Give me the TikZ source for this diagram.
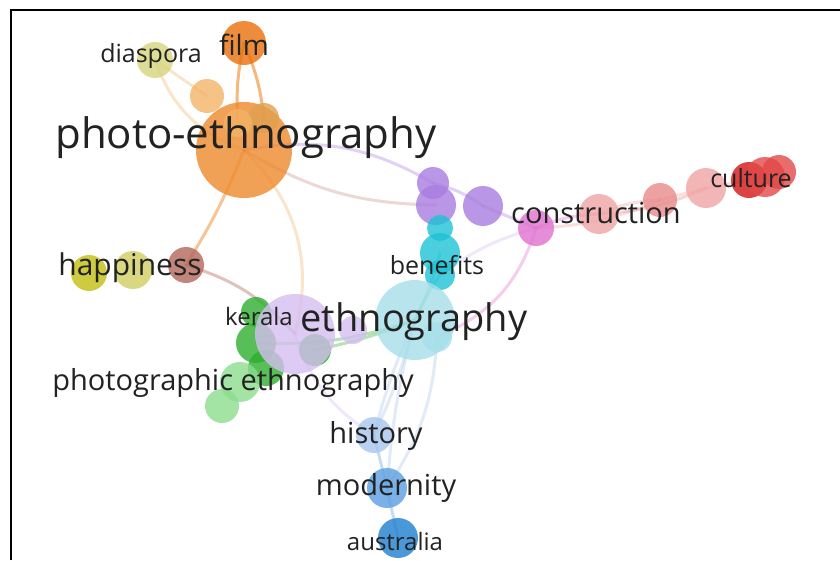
\documentclass[tikz,border=0pt]{standalone}
\usepackage{fontspec}
\setmainfont{Open Sans}
\usetikzlibrary{backgrounds}
\definecolor{cOrange}{HTML}{EE8A2C}
\definecolor{cFilm}{HTML}{E8700A}
\definecolor{cPeach}{HTML}{F2B466}
\definecolor{cTan}{HTML}{E0A050}
\definecolor{cDiasp}{HTML}{D4D47C}
\definecolor{cOlive}{HTML}{C2BE10}
\definecolor{cOliveL}{HTML}{D0CE60}
\definecolor{cBrown}{HTML}{B2675A}
\definecolor{cPurple}{HTML}{A97CE0}
\definecolor{cCyan}{HTML}{1EC2D4}
\definecolor{cMagenta}{HTML}{E070D0}
\definecolor{cPink}{HTML}{F0A4A4}
\definecolor{cSalmon}{HTML}{E88A8A}
\definecolor{cRed}{HTML}{D41414}
\definecolor{cRedL}{HTML}{E24848}
\definecolor{cIce}{HTML}{A6DFE8}
\definecolor{cLav}{HTML}{D4BEF0}
\definecolor{cGreen}{HTML}{2EAE2E}
\definecolor{cGreenL}{HTML}{8CDC8C}
\definecolor{cSky}{HTML}{A8C6EC}
\definecolor{cBlue}{HTML}{5A9EE0}
\definecolor{cBlueD}{HTML}{1E7ED0}
\definecolor{cText}{HTML}{222222}
\tikzset{
  bub/.style={circle,inner sep=0pt,minimum size=#1,fill opacity=0.8},
  lab/.style={text=cText,inner sep=0pt,font=\fontsize{#1}{#1}\selectfont},
  link/.style={line width=3pt,draw opacity=0.35,line cap=round}
}
\begin{document}
\begin{tikzpicture}[x=1pt,y=-1pt]
  \useasboundingbox (0,0) rectangle (840,560);
  \draw[line width=2pt] (11,560) -- (11,10) -- (840,10);
  % bubbles
  \node[bub=36,fill=cDiasp] (diasp) at (155,60) {};
  \node[bub=44,fill=cFilm] (film) at (244,43) {};
  \node[bub=34,fill=cPeach] (peach) at (207,96) {};
  \node[bub=96,fill=cOrange] (phot) at (244,150) {};
  \node[bub=30,fill=cTan] (phota) at (264,118) {};
  \node[bub=28,fill=cPeach] (photb) at (238,123) {};
  \node[bub=36,fill=cOlive] (olive) at (89,273) {};
  \node[bub=38,fill=cOliveL] (oliveb) at (133,270) {};
  \node[bub=36,fill=cBrown] (brown) at (186,265) {};
  \node[bub=32,fill=cPurple] (purpa) at (433,183) {};
  \node[bub=40,fill=cPurple] (purpb) at (436,205) {};
  \node[bub=40,fill=cPurple] (purpc) at (483,206) {};
  \node[bub=26,fill=cCyan] (cyana) at (440,228) {};
  \node[bub=40,fill=cCyan] (cyanb) at (440,253) {};
  \node[bub=30,fill=cCyan] (bene) at (440,275) {};
  \node[bub=36,fill=cMagenta] (cons) at (536,228) {};
  \node[bub=40,fill=cPink] (pinka) at (599,214) {};
  \node[bub=34,fill=cSalmon] (pinkb) at (660,200) {};
  \node[bub=40,fill=cPink] (pinkc) at (706,188) {};
  \node[bub=36,fill=cRed] (reda) at (749,180) {};
  \node[bub=40,fill=cRedL] (redb) at (765,177) {};
  \node[bub=34,fill=cRedL] (redc) at (779,172) {};
  \node[bub=80,fill=cIce] (ethn) at (415,320) {};
  \node[bub=30,fill=cIce] (ethnb) at (437,337) {};
  \node[bub=30,fill=cGreen] (grna) at (256,312) {};
  \node[bub=40,fill=cGreen] (grnb) at (256,343) {};
  \node[bub=36,fill=cGreen] (grnc) at (266,368) {};
  \node[bub=32,fill=cGreen] (grnd) at (315,350) {};
  \node[bub=80,fill=cLav] (ker) at (295,334) {};
  \node[bub=28,fill=cLav] (kerb) at (353,330) {};
  \node[bub=40,fill=cGreenL] (pga) at (240,382) {};
  \node[bub=34,fill=cGreenL] (pgb) at (222,406) {};
  \node[bub=36,fill=cSky] (hist) at (374,435) {};
  \node[bub=40,fill=cBlue] (mod) at (387,488) {};
  \node[bub=40,fill=cBlueD] (aus) at (398,538) {};
  % links
  \begin{scope}[on background layer]
    \draw[link,cOrange,draw opacity=0.6] (film.center) to[bend right=8] (photb.center);
    \draw[link,cOrange,draw opacity=0.6] (film.center) to[bend left=8] (phota.center);
    \draw[link,cPeach] (diasp.center) -- (peach.center);
    \draw[link,cPeach] (diasp.center) to[bend right=25] (phot.center);
    \draw[link,cOrange,draw opacity=0.5] (phot.center) to[bend left=5] (brown.center);
    \draw[link,cPeach] (phot.center) to[bend left=30] (ker.center);
    \draw[link,cPurple] (phot.center) to[bend left=20] (purpa.center);
    \draw[link,cBrown,draw opacity=0.25] (phot.center) to[bend right=15] (purpb.center);
    \draw[link,cBrown,draw opacity=0.4] (brown.center) to[bend left=15] (ker.center);
    \draw[link,cGreen] (grnd.center) to[bend right=5] (ethn.center);
    \draw[link,cGreen] (grnb.center) to[bend right=10] (ethn.center);
    \draw[link,cCyan] (ethn.center) to[bend left=5] (bene.center);
    \draw[link,cCyan] (ethn.center) to[bend right=5] (cyanb.center);
    \draw[link,cMagenta] (ethnb.center) to[bend right=25] (cons.center);
    \draw[link,cLav] (bene.center) to[bend left=10] (cons.center);
    \draw[link,cPurple] (purpa.center) to[bend left=10] (purpc.center);
    \draw[link,cPurple] (purpc.center) -- (cons.center);
    \draw[link,cMagenta] (cons.center) to[bend left=10] (pinka.center);
    \draw[link,cPink] (cons.center) to[bend right=10] (pinkb.center);
    \draw[link,cPink] (pinka.center) to[bend left=10] (pinkb.center);
    \draw[link,cPink] (pinkb.center) -- (pinkc.center);
    \draw[link,cSalmon] (pinka.center) to[bend right=10] (pinkc.center);
    \draw[link,cPink] (pinkc.center) -- (reda.center);
    \draw[link,cSky] (ethn.center) to[bend left=5] (hist.center);
    \draw[link,cSky] (ethn.center) to[bend right=5] (hist.center);
    \draw[link,cSky] (ethn.center) to[bend right=5] (mod.center);
    \draw[link,cSky] (ethnb.center) to[bend left=15] (mod.center);
    \draw[link,cLav] (ker.center) to[bend right=20] (hist.center);
    \draw[link,cBlue] (hist.center) -- (mod.center);
    \draw[link,cBlue] (mod.center) -- (aus.center);
  \end{scope}
  % labels
  \node[lab=25] (ldiasp) at (151,56) {diaspora};
  \node[lab=28] (lfilm) at (244,45) {film};
  \node[lab=42] (lphot) at (246,138) {photo-ethnography};
  \node[lab=30] (lhapp) at (130,268) {happiness};
  \node[lab=25] (lbene) at (437,265) {benefits};
  \node[lab=29] (lcons) at (596,213) {construction};
  \node[lab=25] (lcult) at (751,178) {culture};
  \node[lab=38] (lethn) at (414,322) {ethnography};
  \node[lab=24] (lker) at (259,316) {kerala};
  \node[lab=29] (lpg) at (233,383) {photographic ethnography};
  \node[lab=29] (lhist) at (376,436) {history};
  \node[lab=29] (lmod) at (386,488) {modernity};
  \node[lab=24] (laus) at (395,541) {australia};
\end{tikzpicture}
\end{document}
